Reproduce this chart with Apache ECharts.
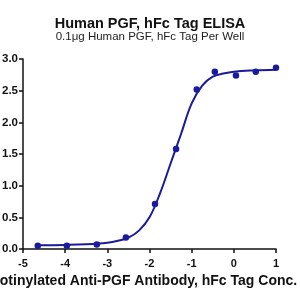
<!DOCTYPE html>
<html>
<head>
<meta charset="utf-8">
<script src="https://cdn.jsdelivr.net/npm/echarts@6/dist/echarts.min.js"></script>
<style>
  html, body { margin: 0; padding: 0; background: #fff; }
  #chart { width: 300px; height: 300px; }
</style>
</head>
<body>
<div id="chart"></div>
<script>
// measured points (log conc, OD450)
const pointX = [-4.65, -3.96, -3.25, -2.56, -1.87, -1.37, -0.88, -0.45, 0.05, 0.52, 1.0];
const pointY = [0.05, 0.05, 0.07, 0.18, 0.71, 1.58, 2.52, 2.80, 2.74, 2.80, 2.86];

// fitted curve
const curveX = [-4.65, -4.0, -3.5, -3.0, -2.75, -2.5, -2.25, -2.0, -1.75, -1.5, -1.25, -1.0, -0.75, -0.5, -0.25, 0, 0.5, 1.0];
const curveY = [0.06, 0.065, 0.075, 0.10, 0.13, 0.18, 0.29, 0.50, 0.88, 1.35, 1.82, 2.30, 2.58, 2.72, 2.77, 2.80, 2.82, 2.83];

const blue = "#1a1a9c";
const font = "Liberation Sans, Arial, sans-serif";

const chart = echarts.init(document.getElementById("chart"));
chart.setOption({
  animation: false,
  title: {
    text: "Human PGF, hFc Tag ELISA",
    subtext: "0.1μg Human PGF, hFc Tag Per Well",
    left: "center",
    top: 11,
    itemGap: 0,
    textStyle: { fontFamily: font, fontSize: 14.5, fontWeight: "bold", color: "#111" },
    subtextStyle: { fontFamily: font, fontSize: 11.5, color: "#222" }
  },
  grid: { left: 23, right: 24, top: 59, bottom: 51, containLabel: false, outerBoundsMode: "none" },
  xAxis: {
    type: "value",
    min: -5,
    max: 1,
    interval: 1,
    name: "Biotinylated Anti-PGF Antibody, hFc Tag Conc.",
    nameLocation: "middle",
    nameGap: 25,
    nameTextStyle: { fontFamily: font, fontSize: 14, fontWeight: "bold", color: "#111", padding: [0, 16, 0, 0] },
    axisLine: { onZero: false, lineStyle: { color: "#111", width: 1.5 } },
    axisTick: { length: 4, lineStyle: { color: "#111", width: 1.5 } },
    axisLabel: { fontFamily: font, fontSize: 11, fontWeight: "bold", color: "#111", margin: 9 },
    splitLine: { show: false }
  },
  yAxis: {
    type: "value",
    min: 0,
    max: 3,
    interval: 0.5,
    axisLine: { show: true, onZero: false, lineStyle: { color: "#111", width: 1.5 } },
    axisTick: { show: true, length: 4, lineStyle: { color: "#111", width: 1.5 } },
    axisLabel: {
      fontFamily: font, fontSize: 11.5, fontWeight: "bold", color: "#111", margin: 5,
      formatter: (v) => v.toFixed(1)
    },
    splitLine: { show: false }
  },
  series: [
    {
      type: "line",
      data: curveX.map((x, i) => [x, curveY[i]]),
      smooth: 0.4,
      showSymbol: false,
      lineStyle: { color: blue, width: 2 },
      z: 2
    },
    {
      type: "scatter",
      data: pointX.map((x, i) => [x, pointY[i]]),
      symbolSize: 6.5,
      itemStyle: { color: blue, opacity: 1 },
      z: 3
    }
  ]
});
</script>
</body>
</html>
